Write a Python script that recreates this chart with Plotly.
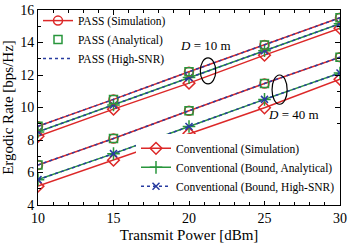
import plotly.graph_objects as go

power = [10, 15, 20, 25, 30]

pass10 = [8.85, 10.5, 12.2, 13.85, 15.52]
conv_bound10 = [8.5, 10.15, 11.84, 13.49, 15.16]
conv_sim10 = [8.23, 9.9, 11.5, 13.22, 14.88]

pass40 = [6.46, 8.09, 9.8, 11.48, 13.1]
conv_bound40 = [5.56, 7.16, 8.83, 10.5, 12.12]
conv_sim40 = [5.16, 6.76, 8.4, 9.98, 11.74]

RED = "rgb(220,40,40)"
GREEN = "rgb(40,150,60)"
BLUE = "rgb(40,60,160)"
FONT = "Liberation Serif"

fig = go.Figure()

def add(x, y, name, color, dash, symbol, mode, legend, show, msize=8, width=1.5):
    fig.add_trace(go.Scatter(
        x=x, y=y, name=name, mode=mode, legend=legend, showlegend=show,
        line=dict(color=color, dash=dash, width=width),
        marker=dict(symbol=symbol, size=msize, color=color,
                    line=dict(color=color, width=1.5)),
    ))

for i, (p, cb, cs) in enumerate([(pass10, conv_bound10, conv_sim10), (pass40, conv_bound40, conv_sim40)]):
    show = i == 0
    add(power, cs, "Conventional (Simulation)", RED, "solid", "diamond-open", "lines+markers", "legend2", show, 9)
    add(power, cb, "Conventional (Bound, Analytical)", GREEN, "solid", "cross-thin-open", "lines+markers", "legend2", show, 9)
    add(power, cb, "Conventional (Bound, High-SNR)", BLUE, "dot", "x-thin-open", "lines+markers", "legend2", show, 7)
    add(power, p, "PASS (Simulation)", RED, "solid", "circle-open", "lines+markers", "legend", show, 9)
    add(power, p, "PASS (Analytical)", GREEN, "solid", "square-open", "markers", "legend", show, 8)
    add(power, p, "PASS (High-SNR)", BLUE, "dot", "circle", "lines", "legend", show)

axis_common = dict(
    showgrid=False, zeroline=False, showline=True, linecolor="black", linewidth=1,
    mirror="ticks", ticks="inside", ticklen=5, tickcolor="black", automargin=False,
    tickfont=dict(family=FONT, size=14, color="black"),
)

fig.update_xaxes(range=[10, 30], dtick=5, tick0=10,
                 minor=dict(dtick=1, ticks="inside", ticklen=3, tickcolor="black"),
                 title=dict(text="Transmit Power [dBm]", font=dict(family=FONT, size=15, color="black"), standoff=4),
                 **axis_common)
fig.update_yaxes(range=[4, 16], dtick=2, tick0=4,
                 minor=dict(dtick=1, ticks="inside", ticklen=3, tickcolor="black"),
                 title=dict(text="Ergodic Rate [bps/Hz]", font=dict(family=FONT, size=15, color="black"), standoff=4),
                 **axis_common)

# ellipses
fig.add_shape(type="circle", xref="x", yref="y", x0=20.75, x1=21.77, y0=11.45, y1=13.05,
              line=dict(color="black", width=1.2))
fig.add_shape(type="circle", xref="x", yref="y", x0=25.5, x1=26.5, y0=10.2, y1=12.0,
              line=dict(color="black", width=1.2))

fig.add_annotation(x=21.1, y=13.8, xref="x", yref="y", text="<i>D</i> = 10 m", showarrow=False,
                   font=dict(family=FONT, size=13, color="black"))
fig.add_annotation(x=26.9, y=9.6, xref="x", yref="y", text="<i>D</i> = 40 m", showarrow=False,
                   font=dict(family=FONT, size=13, color="black"))

fig.update_layout(
    width=349, height=247,
    margin=dict(l=38, r=9, t=6, b=42),
    paper_bgcolor="white", plot_bgcolor="white",
    font=dict(family=FONT, color="black"),
    legend=dict(x=0.0, y=1.02, xanchor="left", yanchor="top", bgcolor="rgba(255,255,255,0)",
                font=dict(family=FONT, size=11.5, color="black"), tracegroupgap=0,
                itemwidth=30, traceorder="normal"),
    legend2=dict(x=1.0, y=0.365, xanchor="right", yanchor="top", bgcolor="white",
                 font=dict(family=FONT, size=11.5, color="black"), tracegroupgap=0,
                 itemwidth=30, traceorder="normal"),
)

fig.write_html("out.html", config={"displayModeBar": False},
               post_script="document.body.style.margin='0';document.body.style.overflow='hidden';")
